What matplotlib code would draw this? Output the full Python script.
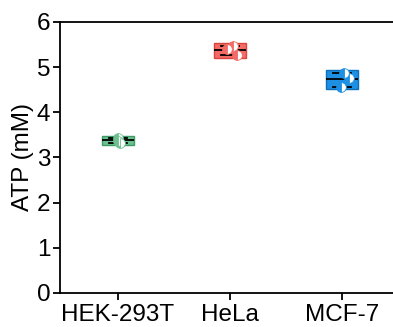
import matplotlib.pyplot as plt

plt.rcParams['font.family'] = ['Liberation Sans', 'DejaVu Sans']

cells = ['HEK-293T', 'HeLa', 'MCF-7']
# three replicate measurements per cell line (mM)
atp_points = [[3.44, 3.37, 3.33],
              [5.47, 5.41, 5.26],
              [4.86, 4.76, 4.57]]
# box statistics: lower edge, median, upper edge, min, max
box_q1 = [3.28, 5.21, 4.51]
box_med = [3.38, 5.37, 4.73]
box_q3 = [3.48, 5.53, 4.93]
box_lo = [3.33, 5.26, 4.57]
box_hi = [3.44, 5.47, 4.86]
point_dx = [[0.0, 0.0, 0.02], [0.03, -0.03, 0.06], [0.02, 0.06, -0.01]]

face = ['#6cc08f', '#f26b66', '#1e90e3']
edge = ['#3e9a66', '#d9443f', '#0f6fba']

fig = plt.figure(figsize=(3.93, 3.27), dpi=100)
ax = fig.add_axes([0.1527, 0.104, 0.865, 0.829])

stats = []
for i in range(3):
    stats.append({'med': box_med[i], 'q1': box_q1[i], 'q3': box_q3[i],
                  'whislo': box_lo[i], 'whishi': box_hi[i], 'fliers': []})

for i in range(3):
    ax.bxp([stats[i]], positions=[i + 1], widths=0.28, patch_artist=True,
           showfliers=False,
           boxprops=dict(facecolor=face[i], edgecolor=edge[i], linewidth=1),
           medianprops=dict(color='black', linewidth=1.3),
           whiskerprops=dict(color=face[i], linewidth=0),
           capprops=dict(color='black', linewidth=1.3),
           capwidths=0.16, zorder=2)
    xs = [i + 1 + d for d in point_dx[i]]
    ax.plot(xs, atp_points[i], 'o', ms=7, fillstyle='left',
            color=face[i], markerfacecoloralt='white',
            markeredgecolor=face[i], markeredgewidth=0.6, zorder=4)

ax.set_xlim(0.482, 3.518)
ax.set_ylim(0, 6)
ax.set_xticks([1, 2, 3])
ax.set_xticklabels(cells)
ax.set_yticks(range(7))
ax.set_ylabel('ATP (mM)', fontsize=17.5, labelpad=2)
ax.tick_params(labelsize=17.5, width=1.3, length=5, direction='out')
ax.tick_params(axis='x', pad=3)
ax.tick_params(axis='y', pad=2)
for s in ax.spines.values():
    s.set_linewidth(1.3)
ax.spines['right'].set_visible(False)

fig.savefig('out.png', dpi=100)
